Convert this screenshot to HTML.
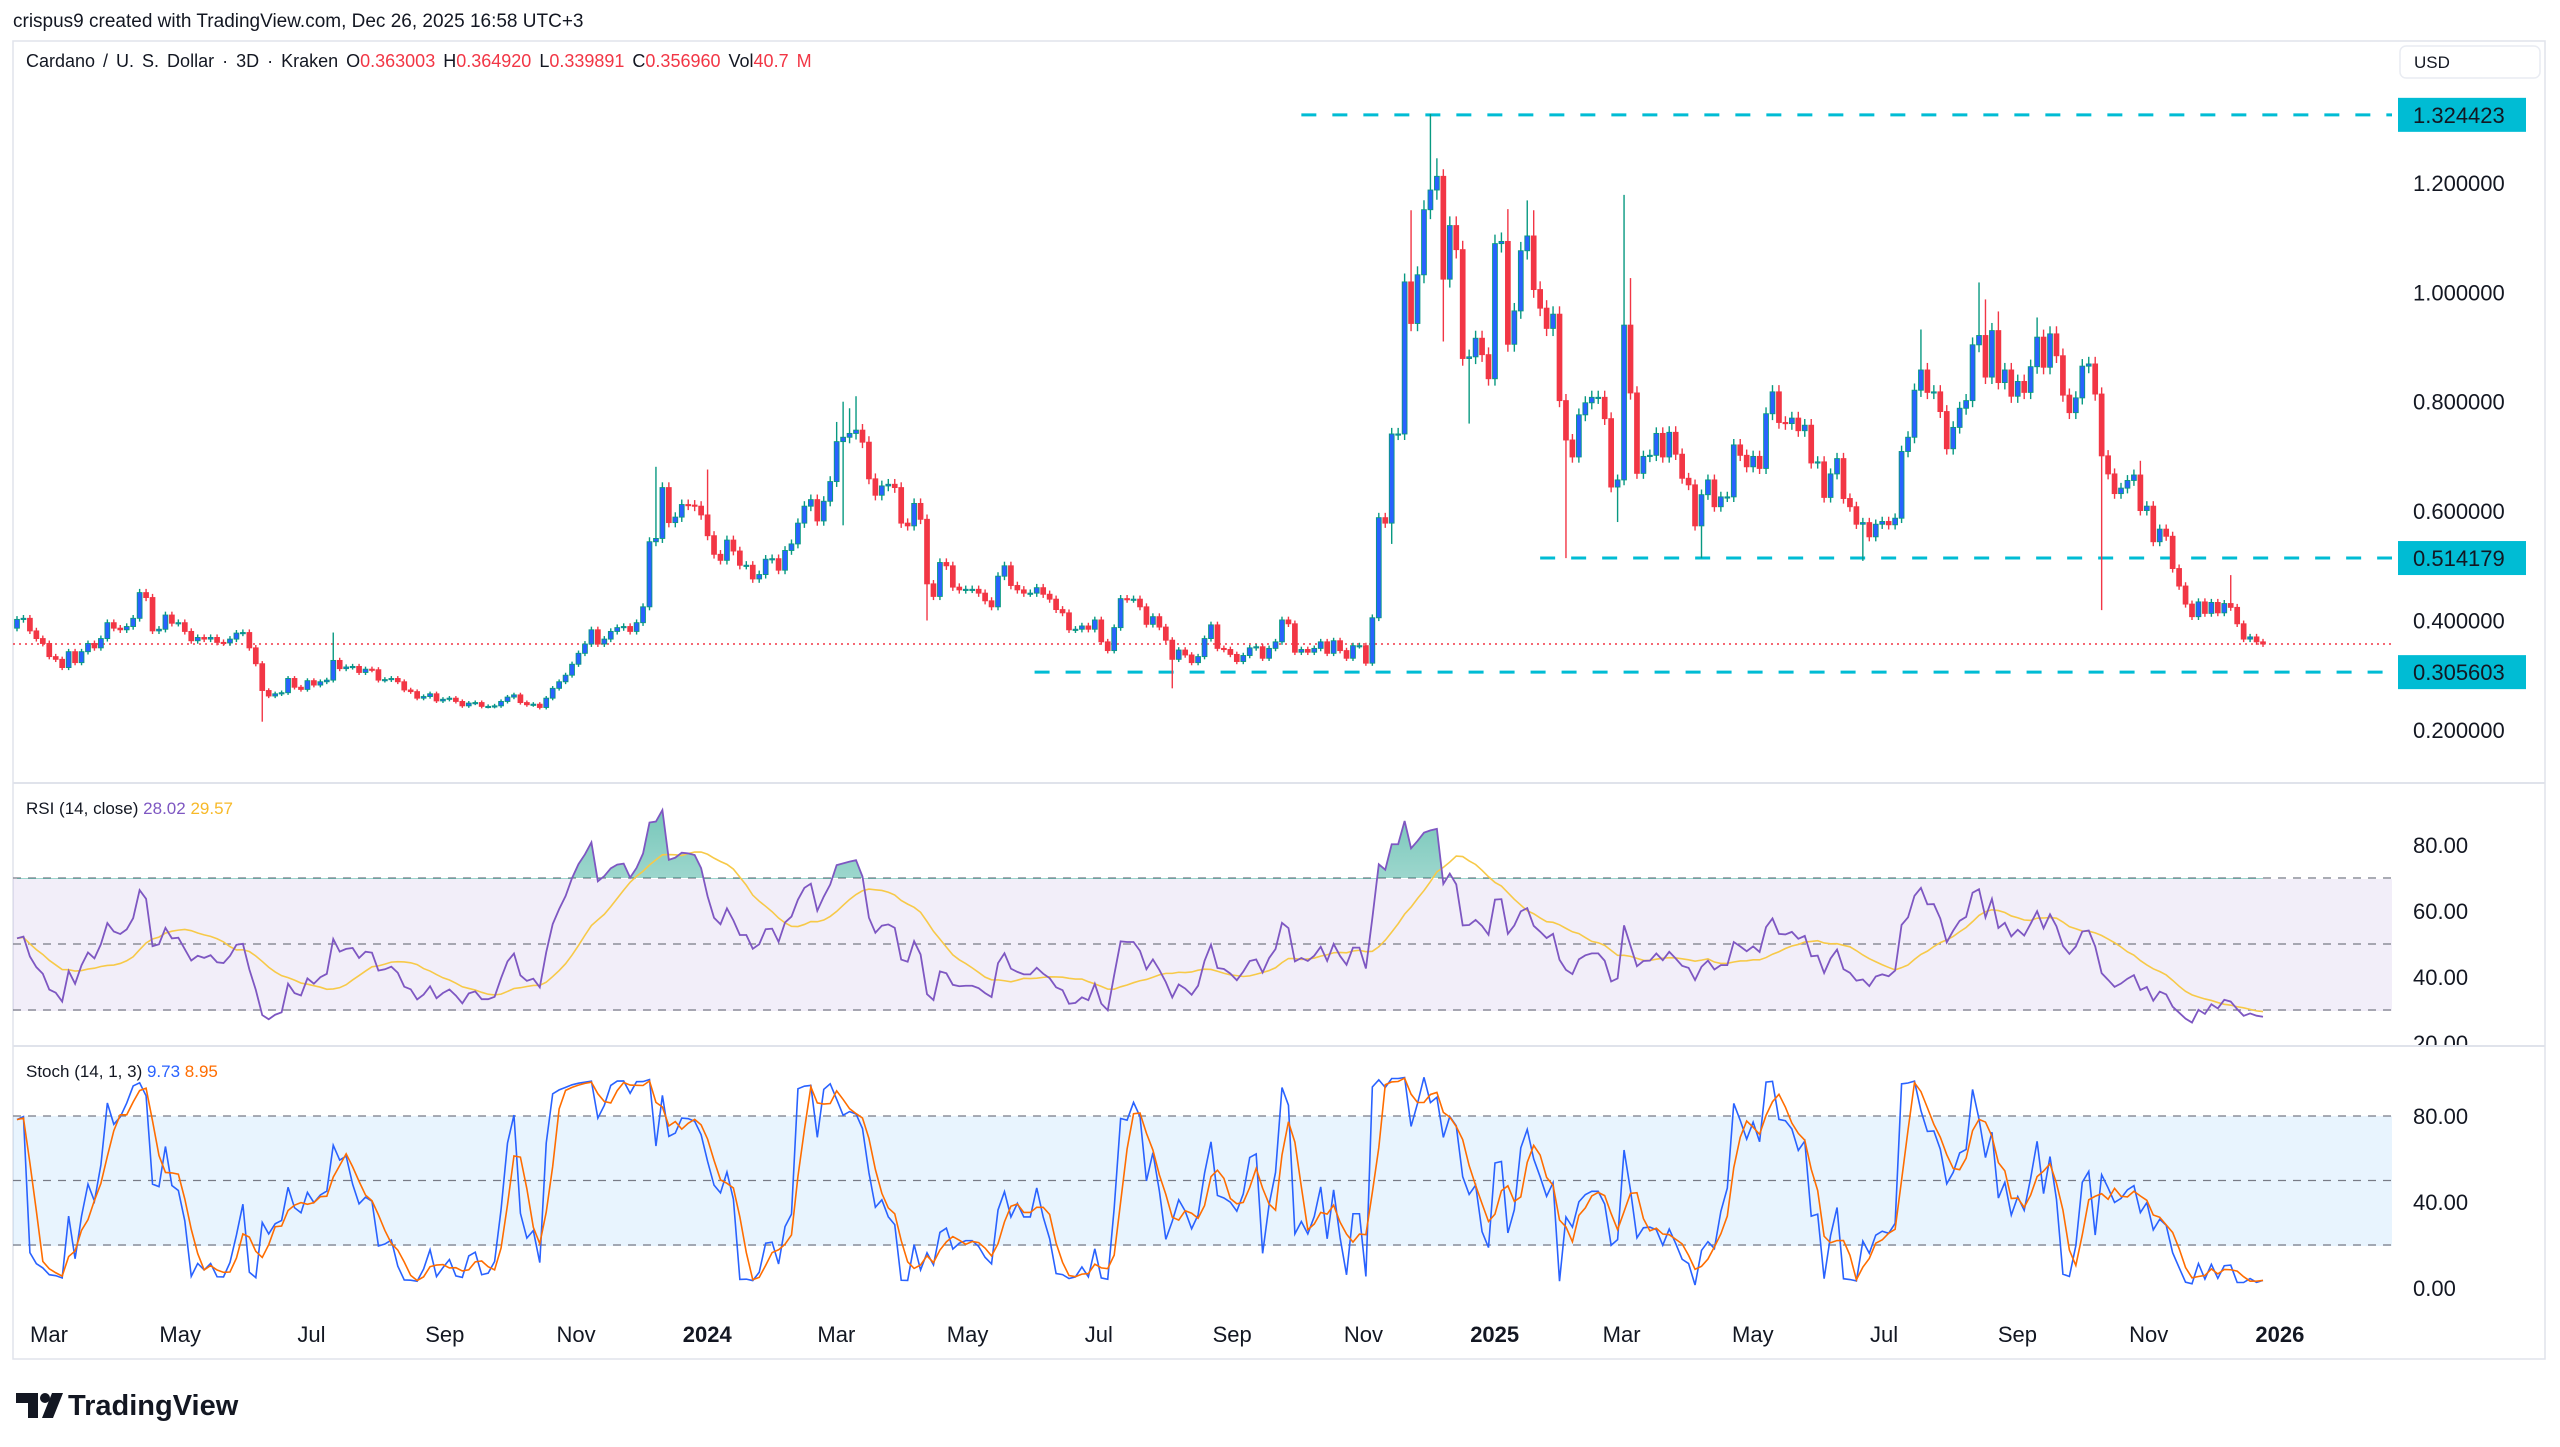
<!DOCTYPE html>
<html><head><meta charset="utf-8"><title>ADA/USD 3D chart</title>
<style>
html,body{margin:0;padding:0;background:#fff;}
svg{display:block;font-family:"Liberation Sans",Arial,sans-serif;}
</style></head>
<body>
<svg id="chart" width="2560" height="1447" viewBox="0 0 2560 1447" xmlns="http://www.w3.org/2000/svg">
<defs>
<clipPath id="clipMain"><rect x="13" y="41" width="2379" height="741"/></clipPath>
<clipPath id="clipRsi"><rect x="13" y="784" width="2379" height="261"/></clipPath>
<clipPath id="clipRsiAxis"><rect x="2392" y="784" width="153" height="261"/></clipPath>
<clipPath id="clipStoch"><rect x="13" y="1047" width="2379" height="258"/></clipPath>
<clipPath id="clipOB"><rect x="13" y="784" width="2379" height="95"/></clipPath>
<linearGradient id="obGrad" x1="0" y1="0" x2="0" y2="1">
<stop offset="0" stop-color="#089981" stop-opacity="0.55"/>
<stop offset="1" stop-color="#089981" stop-opacity="0.08"/>
</linearGradient>
</defs>
<text x="13" y="27" font-size="19" fill="#131722">crispus9 created with TradingView.com, Dec 26, 2025 16:58 UTC+3</text>
<rect x="13" y="41" width="2532" height="1318" fill="none" stroke="#e0e3eb" stroke-width="1.5"/>
<line x1="13" y1="783" x2="2545" y2="783" stroke="#e0e3eb" stroke-width="2"/>
<line x1="13" y1="1046" x2="2545" y2="1046" stroke="#e0e3eb" stroke-width="2"/>
<text x="26" y="67" font-size="18" fill="#131722" word-spacing="3">Cardano / U. S. Dollar · 3D · Kraken  <tspan>O</tspan><tspan fill="#f23645">0.363003</tspan>  <tspan>H</tspan><tspan fill="#f23645">0.364920</tspan>  <tspan>L</tspan><tspan fill="#f23645">0.339891</tspan>  <tspan>C</tspan><tspan fill="#f23645">0.356960</tspan>  <tspan>Vol</tspan><tspan fill="#f23645">40.7 M</tspan></text>
<rect x="2400" y="46" width="140" height="32" rx="6" fill="#fff" stroke="#e9ecf2" stroke-width="1.5"/>
<text x="2414" y="68" font-size="17" fill="#131722">USD</text>
<g id="mainLayer" clip-path="url(#clipMain)"></g>
<g id="mainAxis"></g>
<rect x="13" y="879" width="2379" height="132" fill="#7e57c2" fill-opacity="0.1"/>
<g id="rsiLayer" clip-path="url(#clipRsi)"></g>
<g id="rsiAxis" clip-path="url(#clipRsiAxis)"></g>
<text x="26" y="814" font-size="17" fill="#131722">RSI (14, close)  <tspan fill="#7e57c2">28.02</tspan>  <tspan fill="#f7b928">29.57</tspan></text>
<rect x="13" y="1116" width="2379" height="130" fill="#2196f3" fill-opacity="0.1"/>
<g id="stochLayer" clip-path="url(#clipStoch)"></g>
<g id="stochAxis"></g>
<text x="26" y="1077" font-size="17" fill="#131722">Stoch (14, 1, 3)  <tspan fill="#2962ff">9.73</tspan>  <tspan fill="#ff6d00">8.95</tspan></text>
<g id="timeAxis"></g>
<g>
<path d="M16 1393 h22 v25 h-10 v-15 h-12 z" fill="#131722"/>
<circle cx="45" cy="1398" r="5" fill="#131722"/>
<path d="M52 1393 h11 l-10 25 h-11 z" fill="#131722"/>
<text x="68" y="1415" font-size="29" font-weight="bold" fill="#131722">TradingView</text>
</g>
</svg>
<script>
const closes = [
.402,.404,.381,.367,.358,.334,.329,.314,.343,.323,
.343,.358,.350,.367,.396,.386,.383,.389,.404,.451,
.442,.381,.384,.410,.395,.396,.380,.363,.369,.366,
.369,.360,.359,.366,.377,.378,.350,.321,.272,.262,
.266,.268,.294,.278,.274,.290,.282,.288,.291,.327,
.312,.315,.316,.305,.311,.310,.291,.292,.294,.288,
.273,.270,.258,.261,.266,.253,.256,.258,.252,.244,
.249,.250,.243,.243,.244,.252,.260,.264,.250,.246,
.247,.241,.258,.276,.288,.300,.320,.340,.357,.383,
.357,.366,.380,.387,.389,
.380,.396,.425,.544,.550,.643,.579,.589,.612,.611,
.609,.593,.555,.521,.510,.547,.527,.501,.501,.476,
.484,.512,.513,.492,.528,.540,.578,.609,.621,.582,
.618,.654,.727,.735,.742,.748,.726,.659,.629,.646,
.649,.643,.578,.573,.614,.585,.467,.444,.506,.500,
.461,.456,.457,.457,.450,.436,.425,.481,.500,.464,
.456,.450,.450,.460,.448,.439,.420,.414,.383,.384,
.390,.384,.401,.361,.345,.387,.440,.439,.439,.425,
.393,.407,.388,.364,.329,.346,.337,.323,.334,.367,
.392,.349,.347,.338,.325,
.336,.350,.352,.331,.349,.361,.401,.394,.342,.347,
.342,.349,.361,.340,.363,.345,.331,.354,.354,.322,
.405,.588,.578,.741,.741,1.019,.943,1.032,1.151,1.187,
1.212,1.024,1.122,1.078,.879,.882,.916,.886,.842,1.089,
1.093,.905,.966,1.076,1.103,1.005,.971,.934,.960,.802,
.730,.699,.776,.798,.808,.808,.769,.644,.657,.940,
.816,.669,.700,.702,.742,.699,.744,.704,.660,.648,
.573,.630,.657,.608,.626,.626,.721,.702,.681,.700,
.678,.778,.818,.762,.760,.770,.747,.757,.688,.690,
.625,.668,.696,.623,.608,.576,.579,.553,.576,.581,
.575,.587,.709,.735,.821,.858,.817,.818,.782,.714,
.753,.788,.802,.904,.921,.845,.930,.835,.858,.810,
.837,.817,.864,.918,.863,.924,.884,.812,.780,.807,
.865,.869,.814,.701,.668,.632,.642,.656,.666,.601,
.609,.544,.567,.554,.495,.463,.430,.407,.434,.413,
.433,.414,.431,.424,.394,.366,.370,.361,.357
];
const firstOpen = 0.386;
const wickIdx  = [38,49,99,107,127,128,129,130,141,179,213,216,219,220,221,225,231,234,235,240,248,249,250,261,286,295,304,305,307,313,323,329,343];
const wickHigh = [null,.378,.681,.676,.763,.800,.788,.810,null,null,null,1.15,1.326,1.245,1.225,null,1.152,1.168,1.15,null,null,1.178,1.026,null,null,.932,1.018,.987,.965,.954,null,.692,.483];
const wickLow  = [.215,null,null,null,null,.574,null,null,.40,.276,.54,null,null,null,.91,.76,null,null,null,.514,.58,null,null,.514,.509,null,null,null,null,null,.419,null,null];
const priceTicks = [0.2,0.4,0.6,0.8,1.0,1.2];
const rsiTicks = [80,60,40,20];
const stochTicks = [80,40,0];
const timeLabels = ['Mar','May','Jul','Sep','Nov','2024','Mar','May','Jul','Sep','Nov','2025','Mar','May','Jul','Sep','Nov','2026'];
const timeDates = ['2023-03-01','2023-05-01','2023-07-01','2023-09-01','2023-11-01','2024-01-01','2024-03-01','2024-05-01','2024-07-01','2024-09-01','2024-11-01','2025-01-01','2025-03-01','2025-05-01','2025-07-01','2025-09-01','2025-11-01','2026-01-01'];
const levelValues = [1.324423, 0.514179, 0.305603];
const levelLabels = ['1.324423','0.514179','0.305603'];
const levelStart = ['2024-10-05','2025-01-24','2024-06-03'];
const lastPrice = 0.356960;
const lastDate = '2025-12-26';
const rsiSeedGain = 0.0075, rsiSeedLoss = 0.0070;

const NS='http://www.w3.org/2000/svg';
const N=closes.length;
const step=(2263-17)/(N-1);
function xOf(i){return 17+i*step;}
function dayIdx(d){return (N-1)-(Date.parse(lastDate)-Date.parse(d))/86400000/3;}
function yP(p){return 292.3+(1-p)*547;}
function yR(v){return 944-(v-50)*3.3;}
function yS(v){return 1288-v*2.15;}
function mk(tag,attrs,parent){const e=document.createElementNS(NS,tag);for(const k in attrs)e.setAttribute(k,attrs[k]);parent.appendChild(e);return e;}

const opens=closes.map((c,i)=>i===0?firstOpen:closes[i-1]);
const highs=closes.map((c,i)=>Math.max(c,opens[i])*1.015);
const lows=closes.map((c,i)=>Math.min(c,opens[i])*0.985);
wickIdx.forEach((ix,k)=>{if(wickHigh[k]!==null)highs[ix]=wickHigh[k];if(wickLow[k]!==null)lows[ix]=wickLow[k];});

const main=document.getElementById('mainLayer');
const mAxis=document.getElementById('mainAxis');
levelValues.forEach((v,k)=>{
  const y=yP(v);
  const l=mk('line',{x1:xOf(dayIdx(levelStart[k])),y1:y,x2:2392,y2:y,stroke:'#00bcd4','stroke-width':3,'stroke-dasharray':'15 16'},main);
  
  
  const r=mk('rect',{x:2398,y:y-17,width:128,height:34,fill:'#00bcd4'},mAxis);
  
  
  const t=mk('text',{x:2413,y:y+8,'font-size':22,fill:'#131722'},mAxis);
  t.textContent=levelLabels[k];
  
  
});
const lp=mk('line',{x1:13,y1:yP(lastPrice),x2:2392,y2:yP(lastPrice),stroke:'#f23645','stroke-width':1.5,'stroke-dasharray':'2 4'},main);


for(let i=0;i<N;i++){
  const up=closes[i]>=opens[i];
  const x=xOf(i);
  const g=mk('g',{},main);
  
  
  mk('line',{x1:x,x2:x,y1:yP(highs[i]),y2:yP(lows[i]),stroke:up?'#089981':'#f23645','stroke-width':1.4},g);
  const yt=yP(Math.max(opens[i],closes[i])),yb=yP(Math.min(opens[i],closes[i]));
  mk('rect',{x:x-2.4,y:yt,width:4.8,height:Math.max(1.2,yb-yt),fill:up?'#2962ff':'#f23645',stroke:up?'#089981':'#f23645','stroke-width':0.9},g);
}
priceTicks.forEach(v=>{
  const t=mk('text',{x:2413,y:yP(v)+8,'font-size':22,fill:'#131722'},mAxis);
  t.textContent=v.toFixed(6);
  
  
});

// RSI (Wilder), seeded with prior averages
const rsi=new Array(N);let ag=rsiSeedGain,al=rsiSeedLoss;
rsi[0]=100-100/(1+ag/al);
for(let i=1;i<N;i++){
  const ch=closes[i]-closes[i-1],g=Math.max(ch,0),l=Math.max(-ch,0);
  ag=(ag*13+g)/14;al=(al*13+l)/14;
  rsi[i]=al===0?100:100-100/(1+ag/al);
}
const rsiMa=rsi.map((v,i)=>{const s=rsi.slice(Math.max(0,i-13),i+1);return s.reduce((a,b)=>a+b,0)/s.length;});
const rl=document.getElementById('rsiLayer');
[70,50,30].forEach(v=>{const l=mk('line',{x1:13,x2:2392,y1:yR(v),y2:yR(v),stroke:'#787b86','stroke-width':1.3,'stroke-dasharray':'8 7'},rl);
  
  });
let obPts=`${xOf(0)},${yR(70)} `+rsi.map((v,i)=>`${xOf(i)},${yR(v)}`).join(' ')+` ${xOf(N-1)},${yR(70)}`;
const ob=mk('polygon',{points:obPts,fill:'url(#obGrad)','clip-path':'url(#clipOB)'},rl);


const rm=mk('polyline',{points:rsiMa.map((v,i)=>`${xOf(i)},${yR(v)}`).join(' '),fill:'none',stroke:'#f7c948','stroke-width':1.6},rl);


const rp=mk('polyline',{points:rsi.map((v,i)=>`${xOf(i)},${yR(v)}`).join(' '),fill:'none',stroke:'#7e57c2','stroke-width':1.8},rl);


const ra=document.getElementById('rsiAxis');
rsiTicks.forEach(v=>{const t=mk('text',{x:2413,y:yR(v)+8,'font-size':22,fill:'#131722'},ra);t.textContent=v.toFixed(2);
  
  });

// Stoch
const kArr=closes.map((c,i)=>{let hh=-1e9,ll=1e9;for(let j=Math.max(0,i-13);j<=i;j++){hh=Math.max(hh,highs[j]);ll=Math.min(ll,lows[j]);}return hh===ll?50:(c-ll)/(hh-ll)*100;});
const dArr=kArr.map((v,i)=>{const s=kArr.slice(Math.max(0,i-2),i+1);return s.reduce((a,b)=>a+b,0)/s.length;});
const sl=document.getElementById('stochLayer');
[80,50,20].forEach(v=>{const l=mk('line',{x1:13,x2:2392,y1:yS(v),y2:yS(v),stroke:'#787b86','stroke-width':1.3,'stroke-dasharray':'8 7'},sl);
  
  });
const sk=mk('polyline',{points:kArr.map((v,i)=>`${xOf(i)},${yS(v)}`).join(' '),fill:'none',stroke:'#2962ff','stroke-width':1.6},sl);


const sd=mk('polyline',{points:dArr.map((v,i)=>`${xOf(i)},${yS(v)}`).join(' '),fill:'none',stroke:'#ff6d00','stroke-width':1.6},sl);


const sa=document.getElementById('stochAxis');
stochTicks.forEach(v=>{const t=mk('text',{x:2413,y:yS(v)+8,'font-size':22,fill:'#131722'},sa);t.textContent=v.toFixed(2);
  
  });

const ta=document.getElementById('timeAxis');
timeLabels.forEach((lab,k)=>{
  const bold=/^\d{4}$/.test(lab);
  const t=mk('text',{x:xOf(dayIdx(timeDates[k]))+4,y:1342,'font-size':22,'text-anchor':'middle',fill:'#131722','font-weight':bold?'bold':'normal'},ta);
  t.textContent=lab;
  
  
});
</script>
</body></html>
